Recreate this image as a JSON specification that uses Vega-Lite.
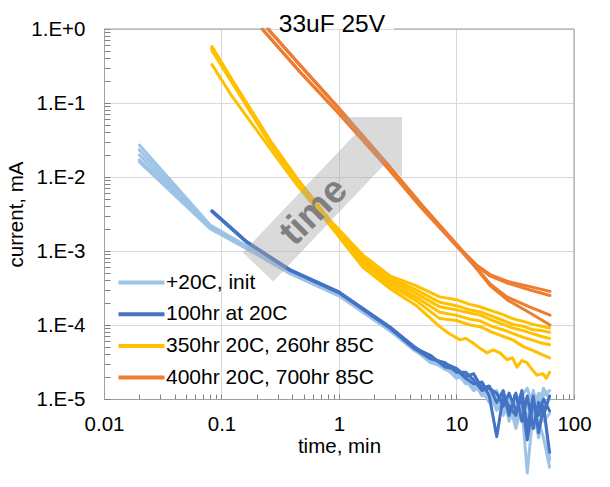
{
"$schema":"https://vega.github.io/schema/vega-lite/v6.json",
"width":470,"height":370,"autosize":{"type":"none"},
"padding":{"left":104,"top":29,"right":36,"bottom":88},
"background":"white",
"config":{"view":{"stroke":null},"font":"Liberation Sans"},
"datasets":{
"lines":[
{"series":"L1","group":"+20C, init","time":0.02,"current":0.027},{"series":"L1","group":"+20C, init","time":0.08,"current":0.00225},{"series":"L1","group":"+20C, init","time":0.165,"current":0.00116},{"series":"L1","group":"+20C, init","time":0.383,"current":0.00053},{"series":"L1","group":"+20C, init","time":1,"current":0.000265},{"series":"L1","group":"+20C, init","time":2.72,"current":8.9e-5},{"series":"L1","group":"+20C, init","time":4.3,"current":5.1e-5},{"series":"L1","group":"+20C, init","time":6,"current":3.3e-5},{"series":"L1","group":"+20C, init","time":8,"current":2.9e-5},{"series":"L1","group":"+20C, init","time":10,"current":2.1e-5},{"series":"L1","group":"+20C, init","time":12,"current":1.9e-5},{"series":"L1","group":"+20C, init","time":14,"current":1.4e-5},{"series":"L1","group":"+20C, init","time":16.5,"current":1.6e-5},{"series":"L1","group":"+20C, init","time":19,"current":1.0e-5},{"series":"L1","group":"+20C, init","time":22,"current":1.2e-5},{"series":"L1","group":"+20C, init","time":25,"current":6e-6},{"series":"L1","group":"+20C, init","time":28,"current":9e-6},{"series":"L1","group":"+20C, init","time":32,"current":4e-6},{"series":"L1","group":"+20C, init","time":36,"current":8e-6},{"series":"L1","group":"+20C, init","time":40,"current":1.0e-6},{"series":"L1","group":"+20C, init","time":45,"current":7e-6},{"series":"L1","group":"+20C, init","time":50,"current":3e-6},{"series":"L1","group":"+20C, init","time":55,"current":9e-6},{"series":"L1","group":"+20C, init","time":62,"current":1.5e-6},
{"series":"L2","group":"+20C, init","time":0.02,"current":0.0232},{"series":"L2","group":"+20C, init","time":0.08,"current":0.00215},{"series":"L2","group":"+20C, init","time":0.165,"current":0.00113},{"series":"L2","group":"+20C, init","time":0.383,"current":0.000515},{"series":"L2","group":"+20C, init","time":1,"current":0.000258},{"series":"L2","group":"+20C, init","time":2.72,"current":8.7e-5},{"series":"L2","group":"+20C, init","time":4.3,"current":4.7e-5},{"series":"L2","group":"+20C, init","time":6,"current":3.6e-5},{"series":"L2","group":"+20C, init","time":8,"current":2.6e-5},{"series":"L2","group":"+20C, init","time":10,"current":2.4e-5},{"series":"L2","group":"+20C, init","time":12,"current":1.7e-5},{"series":"L2","group":"+20C, init","time":14,"current":1.9e-5},{"series":"L2","group":"+20C, init","time":16.5,"current":1.2e-5},{"series":"L2","group":"+20C, init","time":19,"current":1.4e-5},{"series":"L2","group":"+20C, init","time":22,"current":8e-6},{"series":"L2","group":"+20C, init","time":25,"current":1.1e-5},{"series":"L2","group":"+20C, init","time":28,"current":7e-6},{"series":"L2","group":"+20C, init","time":32,"current":1.0e-5},{"series":"L2","group":"+20C, init","time":36,"current":5e-6},{"series":"L2","group":"+20C, init","time":40,"current":9e-6},{"series":"L2","group":"+20C, init","time":45,"current":4e-6},{"series":"L2","group":"+20C, init","time":50,"current":1.1e-5},{"series":"L2","group":"+20C, init","time":55,"current":5e-6},{"series":"L2","group":"+20C, init","time":62,"current":6.4e-6},
{"series":"L3","group":"+20C, init","time":0.02,"current":0.0198},{"series":"L3","group":"+20C, init","time":0.08,"current":0.0021},{"series":"L3","group":"+20C, init","time":0.165,"current":0.00111},{"series":"L3","group":"+20C, init","time":0.383,"current":0.000505},{"series":"L3","group":"+20C, init","time":1,"current":0.000252},{"series":"L3","group":"+20C, init","time":2.72,"current":8.5e-5},{"series":"L3","group":"+20C, init","time":4.3,"current":4.8e-5},{"series":"L3","group":"+20C, init","time":6,"current":3.1e-5},{"series":"L3","group":"+20C, init","time":8,"current":2.7e-5},{"series":"L3","group":"+20C, init","time":10,"current":1.9e-5},{"series":"L3","group":"+20C, init","time":12,"current":2.1e-5},{"series":"L3","group":"+20C, init","time":14,"current":1.5e-5},{"series":"L3","group":"+20C, init","time":16.5,"current":1.3e-5},{"series":"L3","group":"+20C, init","time":19,"current":9e-6},{"series":"L3","group":"+20C, init","time":22,"current":1.3e-5},{"series":"L3","group":"+20C, init","time":25,"current":7e-6},{"series":"L3","group":"+20C, init","time":28,"current":1.1e-5},{"series":"L3","group":"+20C, init","time":32,"current":6e-6},{"series":"L3","group":"+20C, init","time":36,"current":9e-6},{"series":"L3","group":"+20C, init","time":40,"current":3e-6},{"series":"L3","group":"+20C, init","time":45,"current":1.0e-5},{"series":"L3","group":"+20C, init","time":50,"current":5e-6},{"series":"L3","group":"+20C, init","time":55,"current":3e-6},{"series":"L3","group":"+20C, init","time":62,"current":1.2e-6},
{"series":"L4","group":"+20C, init","time":0.02,"current":0.017},{"series":"L4","group":"+20C, init","time":0.08,"current":0.00205},{"series":"L4","group":"+20C, init","time":0.165,"current":0.00109},{"series":"L4","group":"+20C, init","time":0.383,"current":0.0005},{"series":"L4","group":"+20C, init","time":1,"current":0.00025},{"series":"L4","group":"+20C, init","time":2.72,"current":8.4e-5},{"series":"L4","group":"+20C, init","time":4.3,"current":4.6e-5},{"series":"L4","group":"+20C, init","time":6,"current":3.4e-5},{"series":"L4","group":"+20C, init","time":8,"current":2.5e-5},{"series":"L4","group":"+20C, init","time":10,"current":2.2e-5},{"series":"L4","group":"+20C, init","time":12,"current":1.8e-5},{"series":"L4","group":"+20C, init","time":14,"current":1.3e-5},{"series":"L4","group":"+20C, init","time":16.5,"current":1.5e-5},{"series":"L4","group":"+20C, init","time":19,"current":1.1e-5},{"series":"L4","group":"+20C, init","time":22,"current":9e-6},{"series":"L4","group":"+20C, init","time":25,"current":1.2e-5},{"series":"L4","group":"+20C, init","time":28,"current":5e-6},{"series":"L4","group":"+20C, init","time":32,"current":9e-6},{"series":"L4","group":"+20C, init","time":36,"current":1.2e-5},{"series":"L4","group":"+20C, init","time":40,"current":5e-6},{"series":"L4","group":"+20C, init","time":45,"current":1.3e-5},{"series":"L4","group":"+20C, init","time":50,"current":7e-6},{"series":"L4","group":"+20C, init","time":55,"current":1.4e-5},{"series":"L4","group":"+20C, init","time":62,"current":1.0e-5},
{"series":"L5","group":"+20C, init","time":0.02,"current":0.016},{"series":"L5","group":"+20C, init","time":0.08,"current":0.002},{"series":"L5","group":"+20C, init","time":0.165,"current":0.00107},{"series":"L5","group":"+20C, init","time":0.383,"current":0.000495},{"series":"L5","group":"+20C, init","time":1,"current":0.000248},{"series":"L5","group":"+20C, init","time":2.72,"current":8.3e-5},{"series":"L5","group":"+20C, init","time":4.3,"current":4.9e-5},{"series":"L5","group":"+20C, init","time":6,"current":3.2e-5},{"series":"L5","group":"+20C, init","time":8,"current":2.8e-5},{"series":"L5","group":"+20C, init","time":10,"current":2.3e-5},{"series":"L5","group":"+20C, init","time":12,"current":1.6e-5},{"series":"L5","group":"+20C, init","time":14,"current":1.7e-5},{"series":"L5","group":"+20C, init","time":16.5,"current":1.1e-5},{"series":"L5","group":"+20C, init","time":19,"current":1.2e-5},{"series":"L5","group":"+20C, init","time":22,"current":7e-6},{"series":"L5","group":"+20C, init","time":25,"current":9e-6},{"series":"L5","group":"+20C, init","time":28,"current":1.0e-5},{"series":"L5","group":"+20C, init","time":32,"current":5e-6},{"series":"L5","group":"+20C, init","time":36,"current":1.1e-5},{"series":"L5","group":"+20C, init","time":40,"current":1.4e-5},{"series":"L5","group":"+20C, init","time":45,"current":8e-6},{"series":"L5","group":"+20C, init","time":50,"current":1.2e-5},{"series":"L5","group":"+20C, init","time":55,"current":1.1e-5},{"series":"L5","group":"+20C, init","time":62,"current":1.3e-5},
{"series":"D1","group":"100hr at 20C","time":0.083,"current":0.0035},{"series":"D1","group":"100hr at 20C","time":0.165,"current":0.00133},{"series":"D1","group":"100hr at 20C","time":0.383,"current":0.00056},{"series":"D1","group":"100hr at 20C","time":1,"current":0.00028},{"series":"D1","group":"100hr at 20C","time":2.72,"current":9.4e-5},{"series":"D1","group":"100hr at 20C","time":4.3,"current":5.2e-5},{"series":"D1","group":"100hr at 20C","time":6,"current":3.6e-5},{"series":"D1","group":"100hr at 20C","time":8,"current":3.0e-5},{"series":"D1","group":"100hr at 20C","time":10,"current":2.6e-5},{"series":"D1","group":"100hr at 20C","time":12,"current":2.0e-5},{"series":"D1","group":"100hr at 20C","time":14,"current":2.2e-5},{"series":"D1","group":"100hr at 20C","time":16.5,"current":1.4e-5},{"series":"D1","group":"100hr at 20C","time":19,"current":1.5e-5},{"series":"D1","group":"100hr at 20C","time":22,"current":9e-6},{"series":"D1","group":"100hr at 20C","time":25,"current":1.3e-5},{"series":"D1","group":"100hr at 20C","time":28,"current":6e-6},{"series":"D1","group":"100hr at 20C","time":32,"current":1.2e-5},{"series":"D1","group":"100hr at 20C","time":36,"current":5e-6},{"series":"D1","group":"100hr at 20C","time":40,"current":1.1e-5},{"series":"D1","group":"100hr at 20C","time":45,"current":4e-6},{"series":"D1","group":"100hr at 20C","time":50,"current":9e-6},{"series":"D1","group":"100hr at 20C","time":55,"current":6e-6},{"series":"D1","group":"100hr at 20C","time":62,"current":1.1e-5},
{"series":"D2","group":"100hr at 20C","time":0.083,"current":0.00345},{"series":"D2","group":"100hr at 20C","time":0.165,"current":0.00131},{"series":"D2","group":"100hr at 20C","time":0.383,"current":0.00055},{"series":"D2","group":"100hr at 20C","time":1,"current":0.000275},{"series":"D2","group":"100hr at 20C","time":2.72,"current":9.2e-5},{"series":"D2","group":"100hr at 20C","time":4.3,"current":5.0e-5},{"series":"D2","group":"100hr at 20C","time":6,"current":3.9e-5},{"series":"D2","group":"100hr at 20C","time":8,"current":2.7e-5},{"series":"D2","group":"100hr at 20C","time":10,"current":2.5e-5},{"series":"D2","group":"100hr at 20C","time":12,"current":1.9e-5},{"series":"D2","group":"100hr at 20C","time":14,"current":1.6e-5},{"series":"D2","group":"100hr at 20C","time":16.5,"current":1.7e-5},{"series":"D2","group":"100hr at 20C","time":19,"current":1.1e-5},{"series":"D2","group":"100hr at 20C","time":22,"current":3.1e-6},{"series":"D2","group":"100hr at 20C","time":25,"current":1.1e-5},{"series":"D2","group":"100hr at 20C","time":28,"current":8e-6},{"series":"D2","group":"100hr at 20C","time":32,"current":6e-6},{"series":"D2","group":"100hr at 20C","time":36,"current":1.3e-5},{"series":"D2","group":"100hr at 20C","time":40,"current":4e-6},{"series":"D2","group":"100hr at 20C","time":45,"current":1.1e-5},{"series":"D2","group":"100hr at 20C","time":50,"current":3.5e-6},{"series":"D2","group":"100hr at 20C","time":55,"current":8e-6},{"series":"D2","group":"100hr at 20C","time":62,"current":1.9e-6},
{"series":"D3","group":"100hr at 20C","time":0.083,"current":0.0034},{"series":"D3","group":"100hr at 20C","time":0.165,"current":0.0013},{"series":"D3","group":"100hr at 20C","time":0.383,"current":0.000545},{"series":"D3","group":"100hr at 20C","time":1,"current":0.000272},{"series":"D3","group":"100hr at 20C","time":2.72,"current":9.0e-5},{"series":"D3","group":"100hr at 20C","time":4.3,"current":4.9e-5},{"series":"D3","group":"100hr at 20C","time":6,"current":3.5e-5},{"series":"D3","group":"100hr at 20C","time":8,"current":3.1e-5},{"series":"D3","group":"100hr at 20C","time":10,"current":2.3e-5},{"series":"D3","group":"100hr at 20C","time":12,"current":2.3e-5},{"series":"D3","group":"100hr at 20C","time":14,"current":1.8e-5},{"series":"D3","group":"100hr at 20C","time":16.5,"current":1.3e-5},{"series":"D3","group":"100hr at 20C","time":19,"current":1.4e-5},{"series":"D3","group":"100hr at 20C","time":22,"current":1.2e-5},{"series":"D3","group":"100hr at 20C","time":25,"current":8e-6},{"series":"D3","group":"100hr at 20C","time":28,"current":1.2e-5},{"series":"D3","group":"100hr at 20C","time":32,"current":7e-6},{"series":"D3","group":"100hr at 20C","time":36,"current":1.0e-5},{"series":"D3","group":"100hr at 20C","time":40,"current":2.8e-6},{"series":"D3","group":"100hr at 20C","time":45,"current":9e-6},{"series":"D3","group":"100hr at 20C","time":50,"current":6e-6},{"series":"D3","group":"100hr at 20C","time":55,"current":1.0e-5},{"series":"D3","group":"100hr at 20C","time":62,"current":6.9e-6},
{"series":"Y1","group":"350hr 20C, 260hr 85C","time":0.083,"current":0.58},{"series":"Y1","group":"350hr 20C, 260hr 85C","time":0.12,"current":0.22},{"series":"Y1","group":"350hr 20C, 260hr 85C","time":0.26,"current":0.031},{"series":"Y1","group":"350hr 20C, 260hr 85C","time":0.44,"current":0.0096},{"series":"Y1","group":"350hr 20C, 260hr 85C","time":0.84,"current":0.0026},{"series":"Y1","group":"350hr 20C, 260hr 85C","time":1.6,"current":0.00088},{"series":"Y1","group":"350hr 20C, 260hr 85C","time":2.72,"current":0.00046},{"series":"Y1","group":"350hr 20C, 260hr 85C","time":4.5,"current":0.00034},{"series":"Y1","group":"350hr 20C, 260hr 85C","time":7.2,"current":0.00024},{"series":"Y1","group":"350hr 20C, 260hr 85C","time":10,"current":0.00022},{"series":"Y1","group":"350hr 20C, 260hr 85C","time":13,"current":0.00019},{"series":"Y1","group":"350hr 20C, 260hr 85C","time":16,"current":0.000175},{"series":"Y1","group":"350hr 20C, 260hr 85C","time":20,"current":0.000155},{"series":"Y1","group":"350hr 20C, 260hr 85C","time":25,"current":0.000138},{"series":"Y1","group":"350hr 20C, 260hr 85C","time":30,"current":0.000122},{"series":"Y1","group":"350hr 20C, 260hr 85C","time":37,"current":0.000112},{"series":"Y1","group":"350hr 20C, 260hr 85C","time":45,"current":0.000102},{"series":"Y1","group":"350hr 20C, 260hr 85C","time":53,"current":9.6e-5},{"series":"Y1","group":"350hr 20C, 260hr 85C","time":62,"current":9.1e-5},
{"series":"Y2","group":"350hr 20C, 260hr 85C","time":0.083,"current":0.56},{"series":"Y2","group":"350hr 20C, 260hr 85C","time":0.12,"current":0.215},{"series":"Y2","group":"350hr 20C, 260hr 85C","time":0.26,"current":0.03},{"series":"Y2","group":"350hr 20C, 260hr 85C","time":0.44,"current":0.0093},{"series":"Y2","group":"350hr 20C, 260hr 85C","time":0.84,"current":0.0025},{"series":"Y2","group":"350hr 20C, 260hr 85C","time":1.6,"current":0.00083},{"series":"Y2","group":"350hr 20C, 260hr 85C","time":2.72,"current":0.00043},{"series":"Y2","group":"350hr 20C, 260hr 85C","time":4.5,"current":0.0003},{"series":"Y2","group":"350hr 20C, 260hr 85C","time":7.2,"current":0.000203},{"series":"Y2","group":"350hr 20C, 260hr 85C","time":10,"current":0.000182},{"series":"Y2","group":"350hr 20C, 260hr 85C","time":13,"current":0.00016},{"series":"Y2","group":"350hr 20C, 260hr 85C","time":16,"current":0.00015},{"series":"Y2","group":"350hr 20C, 260hr 85C","time":20,"current":0.000132},{"series":"Y2","group":"350hr 20C, 260hr 85C","time":25,"current":0.000115},{"series":"Y2","group":"350hr 20C, 260hr 85C","time":30,"current":0.000102},{"series":"Y2","group":"350hr 20C, 260hr 85C","time":37,"current":9.6e-5},{"series":"Y2","group":"350hr 20C, 260hr 85C","time":45,"current":8.6e-5},{"series":"Y2","group":"350hr 20C, 260hr 85C","time":53,"current":8.4e-5},{"series":"Y2","group":"350hr 20C, 260hr 85C","time":62,"current":8.0e-5},
{"series":"Y3","group":"350hr 20C, 260hr 85C","time":0.083,"current":0.54},{"series":"Y3","group":"350hr 20C, 260hr 85C","time":0.12,"current":0.208},{"series":"Y3","group":"350hr 20C, 260hr 85C","time":0.26,"current":0.0293},{"series":"Y3","group":"350hr 20C, 260hr 85C","time":0.44,"current":0.0091},{"series":"Y3","group":"350hr 20C, 260hr 85C","time":0.84,"current":0.00245},{"series":"Y3","group":"350hr 20C, 260hr 85C","time":1.6,"current":0.00079},{"series":"Y3","group":"350hr 20C, 260hr 85C","time":2.72,"current":0.0004},{"series":"Y3","group":"350hr 20C, 260hr 85C","time":4.5,"current":0.00027},{"series":"Y3","group":"350hr 20C, 260hr 85C","time":7.2,"current":0.000176},{"series":"Y3","group":"350hr 20C, 260hr 85C","time":10,"current":0.00016},{"series":"Y3","group":"350hr 20C, 260hr 85C","time":13,"current":0.000145},{"series":"Y3","group":"350hr 20C, 260hr 85C","time":16,"current":0.000136},{"series":"Y3","group":"350hr 20C, 260hr 85C","time":20,"current":0.000116},{"series":"Y3","group":"350hr 20C, 260hr 85C","time":25,"current":0.000102},{"series":"Y3","group":"350hr 20C, 260hr 85C","time":30,"current":9.1e-5},{"series":"Y3","group":"350hr 20C, 260hr 85C","time":37,"current":8.4e-5},{"series":"Y3","group":"350hr 20C, 260hr 85C","time":45,"current":7.6e-5},{"series":"Y3","group":"350hr 20C, 260hr 85C","time":53,"current":7.0e-5},{"series":"Y3","group":"350hr 20C, 260hr 85C","time":62,"current":6.6e-5},
{"series":"Y4","group":"350hr 20C, 260hr 85C","time":0.083,"current":0.55},{"series":"Y4","group":"350hr 20C, 260hr 85C","time":0.12,"current":0.21},{"series":"Y4","group":"350hr 20C, 260hr 85C","time":0.26,"current":0.0297},{"series":"Y4","group":"350hr 20C, 260hr 85C","time":0.44,"current":0.0092},{"series":"Y4","group":"350hr 20C, 260hr 85C","time":0.84,"current":0.0024},{"series":"Y4","group":"350hr 20C, 260hr 85C","time":1.6,"current":0.00073},{"series":"Y4","group":"350hr 20C, 260hr 85C","time":2.72,"current":0.00037},{"series":"Y4","group":"350hr 20C, 260hr 85C","time":4.5,"current":0.00024},{"series":"Y4","group":"350hr 20C, 260hr 85C","time":7.2,"current":0.000149},{"series":"Y4","group":"350hr 20C, 260hr 85C","time":10,"current":0.000135},{"series":"Y4","group":"350hr 20C, 260hr 85C","time":13,"current":0.00012},{"series":"Y4","group":"350hr 20C, 260hr 85C","time":16,"current":0.000113},{"series":"Y4","group":"350hr 20C, 260hr 85C","time":20,"current":9.6e-5},{"series":"Y4","group":"350hr 20C, 260hr 85C","time":25,"current":8.6e-5},{"series":"Y4","group":"350hr 20C, 260hr 85C","time":30,"current":7.7e-5},{"series":"Y4","group":"350hr 20C, 260hr 85C","time":37,"current":6.8e-5},{"series":"Y4","group":"350hr 20C, 260hr 85C","time":45,"current":6.2e-5},{"series":"Y4","group":"350hr 20C, 260hr 85C","time":53,"current":5.7e-5},{"series":"Y4","group":"350hr 20C, 260hr 85C","time":62,"current":5.4e-5},
{"series":"Y5","group":"350hr 20C, 260hr 85C","time":0.083,"current":0.51},{"series":"Y5","group":"350hr 20C, 260hr 85C","time":0.12,"current":0.2},{"series":"Y5","group":"350hr 20C, 260hr 85C","time":0.26,"current":0.028},{"series":"Y5","group":"350hr 20C, 260hr 85C","time":0.44,"current":0.0088},{"series":"Y5","group":"350hr 20C, 260hr 85C","time":0.84,"current":0.0023},{"series":"Y5","group":"350hr 20C, 260hr 85C","time":1.6,"current":0.00067},{"series":"Y5","group":"350hr 20C, 260hr 85C","time":2.72,"current":0.00034},{"series":"Y5","group":"350hr 20C, 260hr 85C","time":4.5,"current":0.000215},{"series":"Y5","group":"350hr 20C, 260hr 85C","time":7.2,"current":0.000122},{"series":"Y5","group":"350hr 20C, 260hr 85C","time":10,"current":0.000115},{"series":"Y5","group":"350hr 20C, 260hr 85C","time":13,"current":0.0001},{"series":"Y5","group":"350hr 20C, 260hr 85C","time":16,"current":9.5e-5},{"series":"Y5","group":"350hr 20C, 260hr 85C","time":20,"current":8.0e-5},{"series":"Y5","group":"350hr 20C, 260hr 85C","time":25,"current":7.0e-5},{"series":"Y5","group":"350hr 20C, 260hr 85C","time":30,"current":6.3e-5},{"series":"Y5","group":"350hr 20C, 260hr 85C","time":37,"current":5.1e-5},{"series":"Y5","group":"350hr 20C, 260hr 85C","time":45,"current":4.5e-5},{"series":"Y5","group":"350hr 20C, 260hr 85C","time":53,"current":4.0e-5},{"series":"Y5","group":"350hr 20C, 260hr 85C","time":62,"current":3.6e-5},
{"series":"Y6","group":"350hr 20C, 260hr 85C","time":0.083,"current":0.33},{"series":"Y6","group":"350hr 20C, 260hr 85C","time":0.12,"current":0.13},{"series":"Y6","group":"350hr 20C, 260hr 85C","time":0.26,"current":0.024},{"series":"Y6","group":"350hr 20C, 260hr 85C","time":0.44,"current":0.0078},{"series":"Y6","group":"350hr 20C, 260hr 85C","time":0.84,"current":0.0022},{"series":"Y6","group":"350hr 20C, 260hr 85C","time":1.6,"current":0.0006},{"series":"Y6","group":"350hr 20C, 260hr 85C","time":2.72,"current":0.00031},{"series":"Y6","group":"350hr 20C, 260hr 85C","time":4.5,"current":0.000185},{"series":"Y6","group":"350hr 20C, 260hr 85C","time":7.2,"current":9.5e-5},{"series":"Y6","group":"350hr 20C, 260hr 85C","time":8.5,"current":7.8e-5},{"series":"Y6","group":"350hr 20C, 260hr 85C","time":10.7,"current":6.3e-5},{"series":"Y6","group":"350hr 20C, 260hr 85C","time":12,"current":6.6e-5},{"series":"Y6","group":"350hr 20C, 260hr 85C","time":13.8,"current":5.7e-5},{"series":"Y6","group":"350hr 20C, 260hr 85C","time":16,"current":4.8e-5},{"series":"Y6","group":"350hr 20C, 260hr 85C","time":18.2,"current":4.2e-5},{"series":"Y6","group":"350hr 20C, 260hr 85C","time":20.5,"current":4.6e-5},{"series":"Y6","group":"350hr 20C, 260hr 85C","time":23.4,"current":4.2e-5},{"series":"Y6","group":"350hr 20C, 260hr 85C","time":26.9,"current":3.4e-5},{"series":"Y6","group":"350hr 20C, 260hr 85C","time":30,"current":3.6e-5},{"series":"Y6","group":"350hr 20C, 260hr 85C","time":32.7,"current":2.7e-5},{"series":"Y6","group":"350hr 20C, 260hr 85C","time":36,"current":3.3e-5},{"series":"Y6","group":"350hr 20C, 260hr 85C","time":39.8,"current":3.1e-5},{"series":"Y6","group":"350hr 20C, 260hr 85C","time":44,"current":2.5e-5},{"series":"Y6","group":"350hr 20C, 260hr 85C","time":48.4,"current":2.1e-5},{"series":"Y6","group":"350hr 20C, 260hr 85C","time":54.5,"current":2.2e-5},{"series":"Y6","group":"350hr 20C, 260hr 85C","time":58,"current":1.9e-5},{"series":"Y6","group":"350hr 20C, 260hr 85C","time":62,"current":2.3e-5},
{"series":"O1","group":"400hr 20C, 700hr 85C","time":0.25,"current":1.0},{"series":"O1","group":"400hr 20C, 700hr 85C","time":0.466,"current":0.33},{"series":"O1","group":"400hr 20C, 700hr 85C","time":0.98,"current":0.088},{"series":"O1","group":"400hr 20C, 700hr 85C","time":2.61,"current":0.0148},{"series":"O1","group":"400hr 20C, 700hr 85C","time":5.08,"current":0.0042},{"series":"O1","group":"400hr 20C, 700hr 85C","time":11.3,"current":0.001},{"series":"O1","group":"400hr 20C, 700hr 85C","time":14.9,"current":0.00064},{"series":"O1","group":"400hr 20C, 700hr 85C","time":19.3,"current":0.00048},{"series":"O1","group":"400hr 20C, 700hr 85C","time":26.9,"current":0.00039},{"series":"O1","group":"400hr 20C, 700hr 85C","time":42.3,"current":0.00033},{"series":"O1","group":"400hr 20C, 700hr 85C","time":62.5,"current":0.000285},
{"series":"O2","group":"400hr 20C, 700hr 85C","time":0.247,"current":1.0},{"series":"O2","group":"400hr 20C, 700hr 85C","time":0.466,"current":0.32},{"series":"O2","group":"400hr 20C, 700hr 85C","time":0.98,"current":0.086},{"series":"O2","group":"400hr 20C, 700hr 85C","time":2.61,"current":0.0144},{"series":"O2","group":"400hr 20C, 700hr 85C","time":5.08,"current":0.0041},{"series":"O2","group":"400hr 20C, 700hr 85C","time":11.3,"current":0.00098},{"series":"O2","group":"400hr 20C, 700hr 85C","time":14.9,"current":0.00062},{"series":"O2","group":"400hr 20C, 700hr 85C","time":19.3,"current":0.00046},{"series":"O2","group":"400hr 20C, 700hr 85C","time":26.9,"current":0.00037},{"series":"O2","group":"400hr 20C, 700hr 85C","time":42.3,"current":0.000297},{"series":"O2","group":"400hr 20C, 700hr 85C","time":62.5,"current":0.00025},
{"series":"O3","group":"400hr 20C, 700hr 85C","time":0.221,"current":1.0},{"series":"O3","group":"400hr 20C, 700hr 85C","time":0.466,"current":0.265},{"series":"O3","group":"400hr 20C, 700hr 85C","time":0.98,"current":0.075},{"series":"O3","group":"400hr 20C, 700hr 85C","time":2.61,"current":0.0132},{"series":"O3","group":"400hr 20C, 700hr 85C","time":5.08,"current":0.0038},{"series":"O3","group":"400hr 20C, 700hr 85C","time":11.3,"current":0.00096},{"series":"O3","group":"400hr 20C, 700hr 85C","time":14.9,"current":0.00058},{"series":"O3","group":"400hr 20C, 700hr 85C","time":19.3,"current":0.00036},{"series":"O3","group":"400hr 20C, 700hr 85C","time":26.9,"current":0.00024},{"series":"O3","group":"400hr 20C, 700hr 85C","time":42.3,"current":0.000175},{"series":"O3","group":"400hr 20C, 700hr 85C","time":62.5,"current":0.000136},
{"series":"O4","group":"400hr 20C, 700hr 85C","time":0.224,"current":0.99},{"series":"O4","group":"400hr 20C, 700hr 85C","time":0.466,"current":0.26},{"series":"O4","group":"400hr 20C, 700hr 85C","time":0.98,"current":0.074},{"series":"O4","group":"400hr 20C, 700hr 85C","time":2.61,"current":0.013},{"series":"O4","group":"400hr 20C, 700hr 85C","time":5.08,"current":0.00375},{"series":"O4","group":"400hr 20C, 700hr 85C","time":11.3,"current":0.00095},{"series":"O4","group":"400hr 20C, 700hr 85C","time":14.9,"current":0.00057},{"series":"O4","group":"400hr 20C, 700hr 85C","time":19.3,"current":0.00034},{"series":"O4","group":"400hr 20C, 700hr 85C","time":26.9,"current":0.00022},{"series":"O4","group":"400hr 20C, 700hr 85C","time":42.3,"current":0.000145},{"series":"O4","group":"400hr 20C, 700hr 85C","time":62.5,"current":0.0001}
],
"arrow":[{"time":0.2046,"current":0.000608},{"time":1.91,"current":0.0254}],
"arrowhead":[{"time":2.56,"current":0.0406}],
"label":[{"time":0.6126,"current":0.00337,"text":"time"}]
},
"layer":[
{"data":{"name":"lines"},
"mark":{"type":"line","strokeWidth":3,"strokeJoin":"round","strokeCap":"round"},
"encoding":{
"x":{"field":"time","type":"quantitative","scale":{"type":"log","domain":[0.01,100],"nice":false},
"axis":{"title":"time, min","values":[0.01,0.02,0.03,0.04,0.05,0.06,0.07,0.08,0.09,0.1,0.2,0.3,0.4,0.5,0.6,0.7,0.8,0.9,1,2,3,4,5,6,7,8,9,10,20,30,40,50,60,70,80,90,100],
"labelExpr":"abs(log(datum.value)/LN10 - round(log(datum.value)/LN10)) < 0.01 ? format(datum.value, '~g') : ''",
"grid":true,"gridColor":"#D9D9D9","gridOpacity":{"condition":{"test":"abs(log(datum.value)/LN10 - round(log(datum.value)/LN10)) < 0.01","value":1},"value":0},
"ticks":true,"tickSize":-5,"tickWidth":1,"tickOpacity":1,"tickColor":"#7F7F7F","domainColor":"#A0A0A0","labelFontSize":20.5,"labelColor":"#000000","labelPadding":20,"labelOverlap":false,"labelFlush":false,"labelBound":false,
"titleFontSize":20.5,"titleFontWeight":"normal","titleColor":"#000000","titlePadding":2}},
"y":{"field":"current","type":"quantitative","scale":{"type":"log","domain":[0.00001,1],"nice":false},
"axis":{"title":"current, mA","values":[1e-5,2e-5,3e-5,4e-5,5e-5,6e-5,7e-5,8e-5,9e-5,1e-4,2e-4,3e-4,4e-4,5e-4,6e-4,7e-4,8e-4,9e-4,0.001,0.002,0.003,0.004,0.005,0.006,0.007,0.008,0.009,0.01,0.02,0.03,0.04,0.05,0.06,0.07,0.08,0.09,0.1,0.2,0.3,0.4,0.5,0.6,0.7,0.8,0.9,1],
"labelExpr":"abs(log(datum.value)/LN10 - round(log(datum.value)/LN10)) < 0.01 ? '1.E' + (round(log(datum.value)/LN10) >= 0 ? '+' : '') + round(log(datum.value)/LN10) : ''",
"grid":true,"gridColor":"#D9D9D9","gridOpacity":{"condition":{"test":"abs(log(datum.value)/LN10 - round(log(datum.value)/LN10)) < 0.01","value":1},"value":0},
"ticks":true,"tickSize":-6,"tickWidth":1,"tickOpacity":1,"tickColor":"#7F7F7F","domainColor":"#A0A0A0","labelFontSize":20.5,"labelColor":"#000000","labelPadding":25,"labelOverlap":false,"labelFlush":false,"labelBound":false,
"titleFontSize":20.5,"titleFontWeight":"normal","titleColor":"#000000","titlePadding":4}},
"color":{"field":"group","type":"nominal","scale":{"domain":["+20C, init","100hr at 20C","350hr 20C, 260hr 85C","400hr 20C, 700hr 85C"],"range":["#9DC3E6","#4472C4","#FFC000","#ED7D31"]},
"legend":{"title":null,"orient":"none","legendX":24,"legendY":240,"symbolType":"M-2,0L2,0","symbolSize":529,"symbolStrokeWidth":4,"labelFontSize":21,"labelColor":"#000000","labelOffset":11,"rowPadding":7.7,"padding":0,"labelLimit":400}},
"detail":{"field":"series"}}},
{"data":{"name":"arrow"},"mark":{"type":"line","strokeWidth":42,"strokeCap":"butt","color":"#A6A6A6","opacity":0.42},
"encoding":{"x":{"field":"time","type":"quantitative"},"y":{"field":"current","type":"quantitative"}}},
{"data":{"name":"arrowhead"},"mark":{"type":"point","shape":"M0,-0.5L1,0.5L-1,0.5Z","size":7225,"angle":45,"filled":true,"color":"#A6A6A6","opacity":0.42,"strokeWidth":0},
"encoding":{"x":{"field":"time","type":"quantitative"},"y":{"field":"current","type":"quantitative"}}},
{"data":{"name":"label"},"mark":{"type":"text","fontSize":38,"fontWeight":"bold","color":"#7F7F7F","angle":-45,"align":"center","baseline":"middle"},
"encoding":{"x":{"field":"time","type":"quantitative"},"y":{"field":"current","type":"quantitative"},"text":{"field":"text"}}},
{"data":{"values":[{}]},"mark":{"type":"text","text":"33uF  25V","fontSize":24.5,"color":"#000000","align":"center","baseline":"alphabetic"},
"encoding":{"x":{"datum":0.87},"y":{"datum":0.911}}},
{"data":{"values":[{}]},"mark":{"type":"rule","color":"#A0A0A0","strokeWidth":1},
"encoding":{"x":{"datum":0.01},"x2":{"datum":0.264},"y":{"datum":1}}},
{"data":{"values":[{}]},"mark":{"type":"rule","color":"#A0A0A0","strokeWidth":1},
"encoding":{"x":{"datum":2.94},"x2":{"datum":100},"y":{"datum":1}}},
{"data":{"values":[{}]},"mark":{"type":"rule","color":"#A0A0A0","strokeWidth":1},
"encoding":{"x":{"datum":100},"y":{"datum":0.00001},"y2":{"datum":1}}}
]
}
